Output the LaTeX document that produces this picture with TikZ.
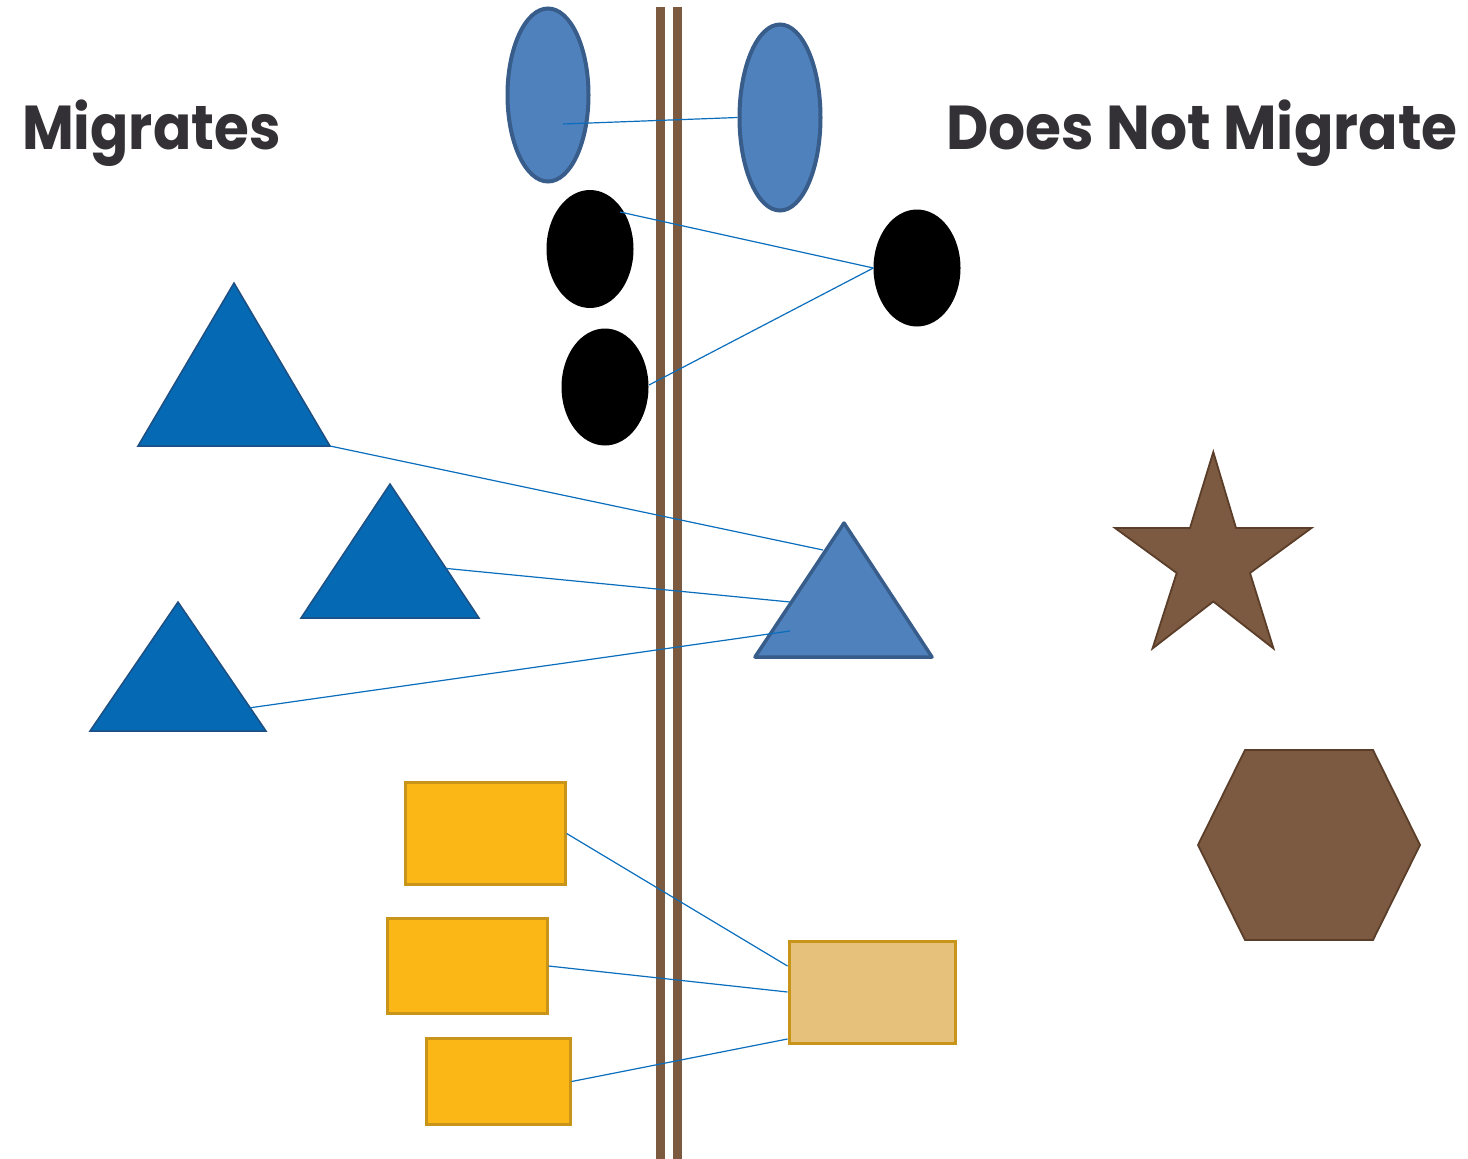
\documentclass[tikz,border=0pt]{standalone}
\usepackage{fontspec}
\setmainfont{Poppins}
\usetikzlibrary{shapes.geometric,calc}
\definecolor{ttl}{HTML}{333135}
\definecolor{barc}{HTML}{7B5A40}
\definecolor{lblue}{HTML}{4F81BD}
\definecolor{lblueb}{HTML}{385D8A}
\definecolor{dblue}{HTML}{0569B3}
\definecolor{dblueb}{HTML}{1D4F82}
\definecolor{brownf}{HTML}{7C5A41}
\definecolor{brownb}{HTML}{5B3E29}
\definecolor{goldf}{HTML}{FBB715}
\definecolor{goldb}{HTML}{C8951A}
\definecolor{paleg}{HTML}{E5C17C}
\definecolor{linkc}{HTML}{0A6EBD}
\tikzset{
  ttltext/.style={font=\bfseries\fontsize{62}{70}\selectfont, text=ttl, inner sep=0pt},
  bar/.style={fill=barc, draw=none},
  oval/.style={ellipse, inner sep=0pt},
  lightoval/.style={oval, fill=lblue, draw=lblueb, line width=4pt},
  blackoval/.style={oval, fill=black, draw=none},
  dtri/.style={fill=dblue, draw=dblueb, line width=1.5pt, line join=miter},
  ltri/.style={fill=lblue, draw=lblueb, line width=3.5pt, line join=round},
  brownshape/.style={fill=brownf, draw=brownb, line width=1.8pt},
  goldbox/.style={rectangle, fill=goldf, draw=goldb, line width=2.2pt, inner sep=0pt},
  palebox/.style={rectangle, fill=paleg, draw=goldb, line width=3pt, inner sep=0pt},
  link/.style={draw=linkc, line width=1.2pt},
}
\begin{document}
\begin{tikzpicture}[x=1pt,y=-1pt]
\useasboundingbox (0,0) rectangle (1468,1159);
\fill[white] (0,0) rectangle (1468,1159);
% titles
\node[ttltext, anchor=base west] (mig) at (22,149) {\scalebox{0.91}[1]{Migrates}};
\node[ttltext, anchor=base east] (nomig) at (1458,149) {\scalebox{0.94}[1]{Does Not Migrate}};
% bars
\path[bar] (656,7) rectangle (664.5,1159);
\path[bar] (673,7) rectangle (682,1159);
% ovals
\node[lightoval, minimum width=81pt, minimum height=173pt] (e1) at (548,95) {};
\node[lightoval, minimum width=81pt, minimum height=186pt] (e2) at (780,117.5) {};
\node[blackoval, minimum width=87pt, minimum height=118pt] (b1) at (590,249) {};
\node[blackoval, minimum width=87pt, minimum height=117pt] (b2) at (605,387) {};
\node[blackoval, minimum width=87pt, minimum height=117pt] (b3) at (917,268) {};
% triangles
\path[dtri] (234,283) coordinate (t1a) -- (330,446) coordinate (t1r) -- (138,446) coordinate (t1l) -- cycle;
\path[dtri] (390,484) coordinate (t2a) -- (479,618) coordinate (t2r) -- (301,618) coordinate (t2l) -- cycle;
\path[dtri] (178,602) coordinate (t3a) -- (266,731) coordinate (t3r) -- (90,731) coordinate (t3l) -- cycle;
\path[ltri] (844,523) coordinate (tra) -- (932,657) coordinate (trr) -- (755,657) coordinate (trl) -- cycle;
\coordinate (tr1) at (823,550);
\coordinate (tr2) at (790,602);
\coordinate (tr3) at (790,631);
% star
\path[brownshape] (1213.3,452) coordinate (sa) -- (1236,528) -- (1311.5,528) -- (1250,573) -- (1273.5,648.5)
  -- (1213.3,601.5) -- (1152.5,648.5) -- (1176.7,573) -- (1115,528) -- (1190,528) -- cycle;
% hexagon
\path[brownshape] (1245,750) coordinate (ha) -- (1373,750) -- (1420,845) -- (1373,940) -- (1245,940) -- (1198,845) -- cycle;
% rectangles
\node[goldbox, minimum width=160pt, minimum height=102pt] (r1) at (485.5,833.5) {};
\node[goldbox, minimum width=160pt, minimum height=95pt] (r2) at (467.5,966) {};
\node[goldbox, minimum width=144pt, minimum height=86pt] (r3) at (498.5,1081.5) {};
\node[palebox, minimum width=166pt, minimum height=102pt] (rr) at (872,992) {};
% connectors
\draw[link] ($(e1.center)+(15,29)$) -- (e2.west);
\draw[link] ($(b1.center)+(30,-37)$) -- (b3.west);
\draw[link] ($(b2.center)+(44,-2)$) -- (b3.west);
\draw[link] (t1r) -- (tr1);
\draw[link] ($(t2a)!0.63!(t2r)$) -- (tr2);
\draw[link] ($(t3a)!0.82!(t3r)$) -- (tr3);
\draw[link] (r1.east) -- ($(rr.west)+(0,-26)$);
\draw[link] (r2.east) -- (rr.west);
\draw[link] (r3.east) -- ($(rr.west)+(0,47)$);
\end{tikzpicture}
\end{document}
